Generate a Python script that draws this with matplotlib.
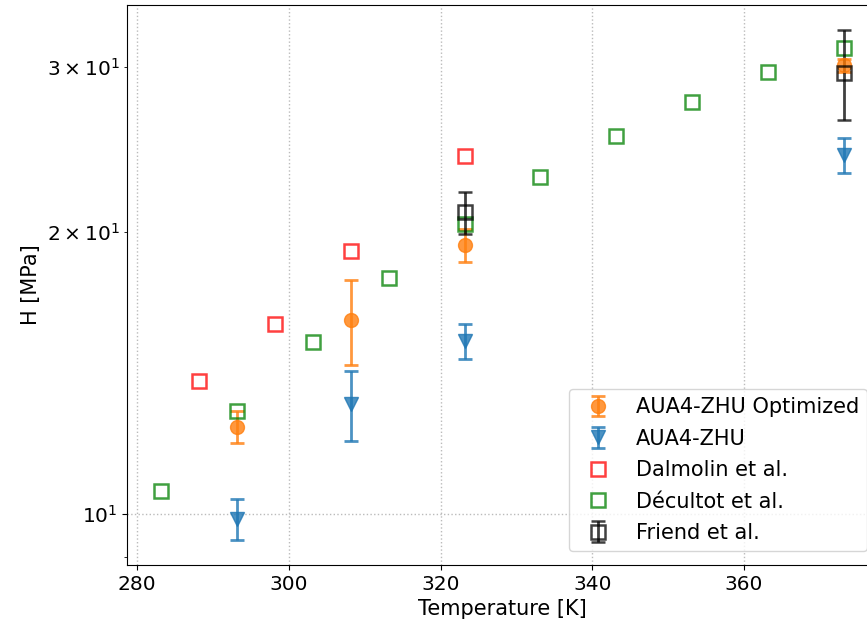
import matplotlib
matplotlib.use("Agg")
import matplotlib.pyplot as plt
import numpy as np

# AUA4-ZHU optimized simulations
T_opt = [293.15, 308.15, 323.15, 373.15]
H_opt = [12.4, 16.1, 19.37, 30.1]
H_opt_err = [0.5, 1.68, 0.78, 0.5]

# AUA4-ZHU simulations
T_zhu = [293.15, 308.15, 323.15, 373.15]
H_zhu = [9.89, 13.1, 15.3, 24.15]
H_zhu_err = [0.49, 1.12, 0.65, 1.02]

# Dalmolin et al.
T_dal = [288.15, 298.15, 308.15, 323.15]
H_dal = [13.86, 15.96, 19.07, 24.1]

# Decultot et al.
T_dec = [283.15, 293.15, 303.15, 313.15, 323.15, 333.15, 343.15, 353.15, 363.15, 373.15]
H_dec = [10.6, 12.88, 15.26, 17.86, 20.4, 22.9, 25.3, 27.5, 29.6, 31.4]

# Friend et al.
T_fri = [323.15, 373.15]
H_fri = [21.0, 29.55]
H_fri_err = [1.08, 3.25]

fig = plt.figure(figsize=(8.67, 6.32), dpi=100)
# right side of the axes runs past the figure edge, as in the reference
ax = fig.add_axes([127 / 867, (632 - 565) / 632, (878 - 127) / 867, (565 - 5) / 632])

h1 = ax.errorbar(T_opt, H_opt, yerr=H_opt_err, fmt='o', color='C1', alpha=0.8,
                 markersize=10, capsize=5, elinewidth=2, capthick=2, label='AUA4-ZHU Optimized')
h2 = ax.errorbar(T_zhu, H_zhu, yerr=H_zhu_err, fmt='v', color='C0', alpha=0.8,
                 markersize=10, capsize=5, elinewidth=2, capthick=2, label='AUA4-ZHU')
h3, = ax.plot(T_dal, H_dal, 's', markerfacecolor='none', markeredgecolor='red', alpha=0.75,
              markersize=10, markeredgewidth=1.8, label='Dalmolin et al.')
h4, = ax.plot(T_dec, H_dec, 's', markerfacecolor='none', markeredgecolor='green', alpha=0.75,
              markersize=10, markeredgewidth=1.8, label='Décultot et al.')
h5 = ax.errorbar(T_fri, H_fri, yerr=H_fri_err, fmt='s', markerfacecolor='none', color='black',
                 alpha=0.75, markersize=10, markeredgewidth=1.8, capsize=5, elinewidth=2,
                 capthick=2, label='Friend et al.')

ax.set_yscale('log')
ax.set_xlabel('Temperature [K]', fontsize=15)
ax.set_ylabel('H [MPa]', fontsize=15)
ax.tick_params(labelsize=14.5, which='both')
ax.grid(True, linestyle=':', color='#bbbbbb', linewidth=1)
ax.legend(handles=[h1, h2, h3, h4, h5], loc='lower right', fontsize=15,
          labelspacing=0.55, borderaxespad=0.65, bbox_to_anchor=(1.004, 0))

fig.savefig('out.png', dpi=100)
